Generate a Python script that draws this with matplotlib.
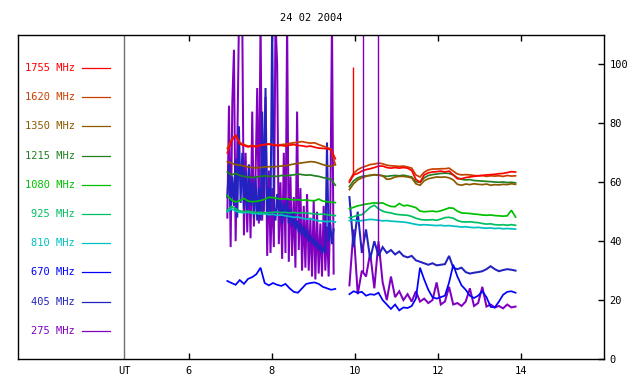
import numpy as np
import matplotlib
matplotlib.use("Agg")
import matplotlib.pyplot as plt

# ---------------- data ----------------
labels = ["1755 MHz", "1620 MHz", "1350 MHz", "1215 MHz", "1080 MHz",
          "925 MHz", "810 MHz", "670 MHz", "405 MHz", "275 MHz"]
colors = ["#FF0000", "#C84000", "#8B5A00", "#228022", "#00C000",
          "#00C060", "#00C0C0", "#0000FF", "#2222C0", "#8000C0"]

title = "24 02 2004"
xticks = [6, 8, 10, 12, 14]
yticks = [0, 20, 40, 60, 80, 100]

# sampling times (UT hours)
t1 = np.round(6.93 + 0.1 * np.arange(27), 3)    # first segment
t2 = np.round(9.87 + 0.1 * np.arange(41), 3)    # second segment
tn = np.round(6.93 + 0.04 * np.arange(65), 3)   # first segment, fine sampling (noisy channels)

f1755_a = [70, 74, 76, 73, 72.5, 72, 72.3, 72, 72.6, 72.8, 73, 72.7, 72.4, 72.5,
           72.3, 72.6, 72.8, 72.5, 72.4, 72.1, 72.3, 71.9, 71.6, 71.5, 71.4, 71, 68]
f1755_b = [60, 62.5, 63, 63.8, 64.3, 64.6, 65, 65.5, 65.5, 65, 64.8, 65, 64.8, 65,
           64.8, 64, 61, 60, 62.5, 63.2, 63.5, 63.6, 63.8, 63.5, 63.8, 62.5, 61.2,
           61.2, 61.6, 61.8, 62, 62.2, 62.3, 62.5, 62.6, 62.7, 62.9, 63, 63.3, 63.6, 63.5]

f1620_a = [71.5, 74.5, 76, 73.5, 72.8, 72.3, 72.5, 72.2, 72.6, 72.8, 72.9, 72.8, 72.6,
           72.8, 72.9, 73.2, 73.4, 73.6, 73.8, 73.5, 73.3, 73.4, 72.8, 72.3, 71.8, 71.2, 66]
f1620_b = [60.5, 63, 64.3, 65, 65.5, 66, 66.2, 66.5, 66.3, 65.8, 65.6, 65.5, 65.4, 65.5,
           65.2, 64.8, 62.5, 61.8, 63.4, 64.2, 64.5, 64.5, 64.6, 64.6, 64.8, 63.8, 62.8,
           62.5, 62.6, 62.5, 62.3, 62.2, 62.3, 62, 62.2, 62.1, 62.2, 62, 62.3, 62.1, 62.2]

f1350_a = [67, 66.5, 66, 65.8, 65.5, 65.2, 65, 64.9, 65, 65.2, 65.3, 65.2, 65.4, 65.5,
           65.6, 65.9, 66.2, 66.4, 66.6, 66.8, 67, 66.9, 66.5, 66, 65.6, 65.4, 66]
f1350_b = [57.5, 59.5, 60.8, 61.5, 62, 62.4, 62.6, 62.5, 62.2, 61, 61.2, 61.8, 62, 62,
           61.8, 61.5, 59.5, 59, 60.5, 61.2, 61.5, 61.8, 61.7, 61.8, 61.5, 60.8, 59.3,
           59, 59.4, 59.2, 59.5, 59.3, 59.2, 59.4, 59, 59.2, 59.1, 59.3, 59.2, 59.5, 59.3]

f1215_a = [63.5, 62.5, 63, 62.3, 62, 61.8, 61.6, 61.8, 62, 62.2, 62, 62.1, 62, 62.3,
           62.2, 62.4, 62.5, 62.8, 62.6, 62.4, 62.5, 62.2, 62, 61.6, 61.3, 61, 59]
f1215_b = [58.5, 60.5, 61.5, 62, 62.2, 62.3, 62.5, 62.4, 62.2, 62, 62.2, 62.3, 62.2, 62.4,
           62.1, 61.8, 60.2, 60, 61.5, 62.3, 62.6, 62.8, 63, 63.1, 63, 62.5, 61.5, 61,
           60.8, 60.9, 60.6, 60.5, 60.4, 60.3, 60.2, 60.1, 60, 60.1, 59.9, 60, 59.8]

f1080_a = [55.5, 54, 53.3, 53.8, 54.5, 53.6, 53.4, 53.5, 53.8, 54.2, 54.9, 54.8, 54.5,
           54.3, 54.4, 54.2, 54, 54.1, 53.9, 54, 53.8, 53.7, 54.3, 53.6, 53.4, 53.2, 53.1]
f1080_b = [51, 51.5, 52, 52.3, 52.6, 52.8, 53, 52.9, 53, 52.3, 51.8, 51.7, 52.8, 52, 52.2,
           51.8, 51.4, 50.2, 50, 50.1, 50.2, 50, 50.3, 50.8, 51.3, 51.2, 50.2, 49.6, 49.5,
           49.4, 49.2, 49.1, 48.9, 48.8, 48.9, 48.7, 48.6, 48.5, 48.6, 50.5, 48.2]

f925_a = [50.5, 51.8, 51, 50.3, 50, 50.2, 49.9, 49.7, 49.8, 49.6, 49.7, 49.8, 49.9, 49.7,
          49.8, 49.6, 49.8, 49.5, 49.7, 49.5, 49.4, 49.3, 49.1, 49.2, 49, 48.8, 48.7]
f925_b = [48, 48.3, 48.8, 49, 50.2, 51.5, 52.2, 51, 50.2, 49.8, 49.6, 49.2, 49, 48.9, 48.8,
          48.4, 47.8, 47.4, 47.2, 47.2, 47.3, 47.1, 47.5, 48, 48.1, 47.8, 47, 46.6, 46.5,
          46.6, 46.4, 46.3, 46, 45.8, 45.9, 45.6, 45.5, 45.6, 45.4, 45.6, 45.4]

f810_a = [50, 51, 50.2, 49.8, 49.6, 49.8, 49.5, 49.4, 49.2, 49.3, 49, 49.1, 48.8, 48.9,
          48.6, 48.4, 48.1, 48.2, 47.8, 47.5, 47.6, 47.2, 46.9, 46.8, 46.6, 46.8, 46.5]
f810_b = [47, 47.2, 46.8, 47, 47.2, 47.4, 47.3, 47.1, 46.9, 47, 46.8, 46.7, 46.6, 46.5,
          46.3, 46, 45.7, 45.5, 45.6, 45.5, 45.4, 45.3, 45.4, 45.2, 45.3, 45.1, 45, 44.8,
          44.9, 44.7, 44.6, 44.7, 44.5, 44.4, 44.5, 44.3, 44.4, 44.2, 44.3, 44.2, 44.1]

f670_a = [26.5, 25.8, 25.2, 26.8, 25.5, 27.2, 27.8, 28.8, 31, 25.8, 25, 25.8, 25.2, 24.8,
          25.5, 24, 22.8, 22.5, 24, 25.5, 25.8, 26, 25.5, 24.5, 24, 23.5, 23.8]
f670_b = [22, 23, 22.5, 22.8, 21.5, 22, 21.8, 22.5, 20, 18.5, 17, 18.5, 16.5, 17.5, 17.3,
          18, 20.5, 31, 27, 23.5, 21, 20.5, 21, 21.5, 26, 32, 28, 25, 23.5, 21.5, 20.7,
          21.5, 23, 21, 17.7, 17.5, 19.5, 21.8, 22.8, 23, 22.5]

f405_a = [55, 66, 50, 62, 52, 68, 48, 79, 53, 70, 51, 64, 50, 66, 52, 60, 48, 62, 47, 58,
          47, 84, 50, 92, 48, 58, 49, 115, 52, 47, 56, 50, 54, 46, 53, 48, 54, 46, 51, 45,
          50, 44, 47, 43, 46, 42, 45, 41, 44, 40, 42, 39, 41, 38, 40, 37, 39, 36, 38, 36,
          73.5, 40, 46, 39, 44]
f405_b = [55, 38, 50, 36, 44, 34, 40, 35, 38, 36, 37, 35.5, 36.5, 35, 34.5, 35, 33.5, 33,
          32.5, 32, 32.5, 31.8, 32, 32.2, 35, 31, 30.5, 31, 29.5, 29, 29.3, 29.5, 29.8,
          30.5, 31.5, 30.5, 29.8, 30.2, 30.5, 30.3, 30]

f275_a = [48, 86, 38, 87, 105, 40, 72, 115, 115, 115, 42, 70, 43, 66, 41, 84, 45, 62, 92,
          46, 115, 47, 68, 89, 35, 64, 36, 58, 38, 115, 100, 39, 60, 34, 70, 36, 115, 33,
          62, 35, 55, 31, 84, 37, 58, 30, 52, 31, 56, 30, 48, 28, 54, 27, 50, 29, 46, 28,
          52, 30, 45, 28, 50, 115, 29]
f275_b = [25, 44, 22, 30, 28, 36, 24, 40, 26, 20, 28, 21, 23, 20, 22, 19.5, 23, 19.5, 20.5,
          19, 20, 26, 18.5, 19.5, 24.5, 18.5, 19, 18, 19.5, 24, 18, 19, 24.5, 17.8, 18.5,
          17.5, 18, 17.2, 18.5, 17.5, 17.8]

# isolated off-scale / tall spikes (time, top value)
spike_1755 = ([9.95], [99])
spike_275 = ([10.20, 10.57], [112, 112])

series = [
    ("275 MHz", tn, f275_a, t2, f275_b),
    ("405 MHz", tn, f405_a, t2, f405_b),
    ("670 MHz", t1, f670_a, t2, f670_b),
    ("810 MHz", t1, f810_a, t2, f810_b),
    ("925 MHz", t1, f925_a, t2, f925_b),
    ("1080 MHz", t1, f1080_a, t2, f1080_b),
    ("1215 MHz", t1, f1215_a, t2, f1215_b),
    ("1350 MHz", t1, f1350_a, t2, f1350_b),
    ("1620 MHz", t1, f1620_a, t2, f1620_b),
    ("1755 MHz", t1, f1755_a, t2, f1755_b),
]
cmap = dict(zip(labels, colors))
noisy = {"275 MHz", "405 MHz"}

# ---------------- figure ----------------
plt.rcParams["font.family"] = ["DejaVu Sans Mono"]
plt.rcParams["font.size"] = 7.5

fig = plt.figure(figsize=(6.4, 3.84), dpi=100)
L, R, B, T = 18, 604, 359, 35
ax = fig.add_axes([L / 640, 1 - B / 384, (R - L) / 640, (B - T) / 384])

xmin, xmax = 1.89, 16.0
ax.set_xlim(xmin, xmax)
ax.set_ylim(0, 110)

for name, ta, ya, tb, yb in series:
    c = cmap[name]
    lw = 1.45 if name in noisy else 1.25
    ax.plot(ta, ya, color=c, lw=lw, solid_joinstyle="miter")
    ax.plot(tb, yb, color=c, lw=lw, solid_joinstyle="miter")

# spikes
base = np.interp(spike_1755[0], t2, f1755_b)
ax.vlines(spike_1755[0], base, spike_1755[1], color=cmap["1755 MHz"], lw=1.0)
base = np.interp(spike_275[0], t2, f275_b)
ax.vlines(spike_275[0], base, spike_275[1], color=cmap["275 MHz"], lw=1.0)

# UT separator line
t_ut = 6 + (124 - 188.5) / 41.5
ax.axvline(t_ut, color="#707070", lw=1.0)
ax.text(t_ut, -0.022, "UT", transform=ax.get_xaxis_transform(), ha="center", va="top")

# legend drawn inside the plot on the left
for k, (lab, col) in enumerate(zip(labels, colors)):
    py = 68 + k * 29.2
    yy = (B - py) / (B - T)
    ax.text((75 - L) / (R - L), yy, lab, color=col, ha="right", va="center",
            transform=ax.transAxes)
    ax.plot([(82 - L) / (R - L), (110 - L) / (R - L)], [yy, yy], color=col, lw=0.9,
            transform=ax.transAxes)

# axes styling
ax.set_xticks(xticks)
ax.set_xticklabels([str(v) for v in xticks])
ax.set_yticks(yticks)
ax.set_yticklabels([str(v) for v in yticks])
ax.tick_params(axis="x", direction="in", top=True, bottom=True, length=4, width=1, pad=5)
ax.tick_params(axis="y", direction="in", left=False, right=True, labelleft=False,
               labelright=True, length=4, width=1, pad=4)
for s in ax.spines.values():
    s.set_linewidth(1.0)
    s.set_color("black")

fig.text(((L + R) / 2) / 640, 1 - 18 / 384, title, ha="center", va="center")

fig.savefig("out.png", dpi=100)
